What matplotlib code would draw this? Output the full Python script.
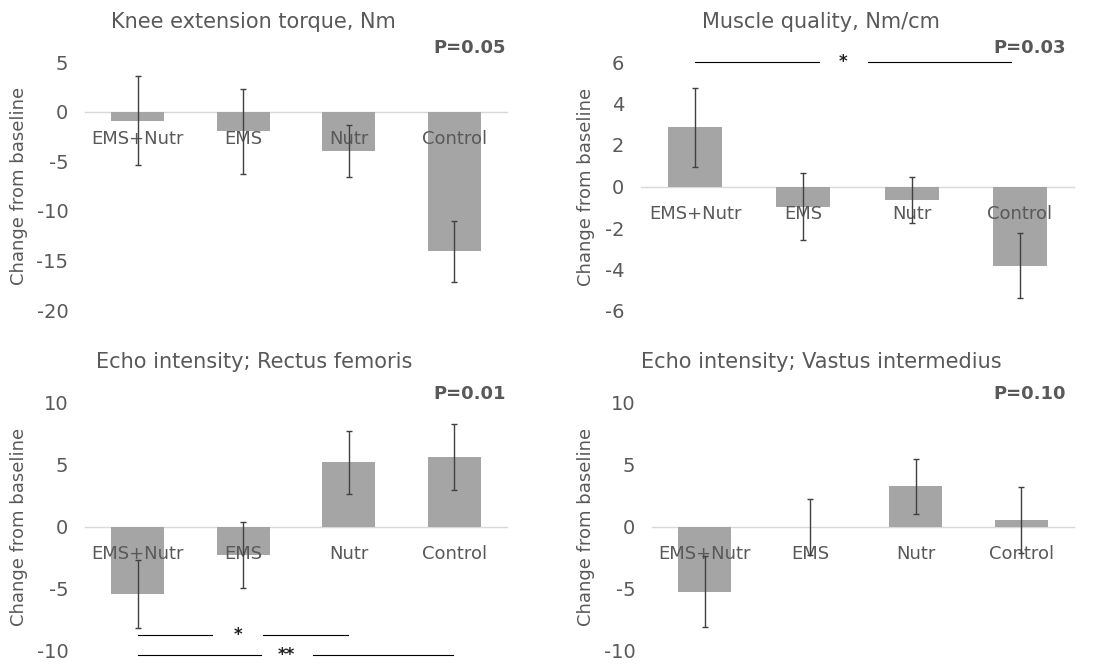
import matplotlib.pyplot as plt

groups = ["EMS+Nutr", "EMS", "Nutr", "Control"]

torque_mean = [-0.9, -2.0, -4.0, -14.1]
torque_err = [4.45, 4.3, 2.6, 3.1]

quality_mean = [2.85, -0.97, -0.65, -3.82]
quality_err = [1.9, 1.6, 1.12, 1.56]

rf_mean = [-5.43, -2.3, 5.15, 5.6]
rf_err = [2.7, 2.67, 2.5, 2.65]

vi_mean = [-5.25, -0.05, 3.22, 0.55]
vi_err = [2.85, 2.27, 2.18, 2.65]

titles = ["Knee extension torque, Nm", "Muscle quality, Nm/cm",
          "Echo intensity; Rectus femoris", "Echo intensity; Vastus intermedius"]
p_values = ["P=0.05", "P=0.03", "P=0.01", "P=0.10"]
ylims = [(-20, 5), (-6, 6), (-10, 10), (-10, 10)]
yticks = [range(-20, 6, 5), range(-6, 7, 2), range(-10, 11, 5), range(-10, 11, 5)]

W, H = 1102, 665
TXT = "#595959"

# pixel boxes (left, top, right, bottom) of each plot area
boxes = [(85, 62, 507, 310), (641, 62, 1074, 311),
         (85, 402, 507, 651), (652, 402, 1074, 651)]
ylabel_x = [28, 595, 28, 595]   # right edge of the rotated y label
title_xy = [(253, 22), (821, 22), (254, 362), (821, 362)]
p_xy = [(506, 48), (1066, 48), (506, 394), (1066, 394)]

plt.rcParams['font.family'] = ['DejaVu Sans']
plt.rcParams['axes.unicode_minus'] = False
fig = plt.figure(figsize=(W / 100, H / 100), dpi=100)

data = [(torque_mean, torque_err), (quality_mean, quality_err),
        (rf_mean, rf_err), (vi_mean, vi_err)]

axes = []
for i, (m, e) in enumerate(data):
    l, t, r, b = boxes[i]
    ax = fig.add_axes([l / W, 1 - b / H, (r - l) / W, (b - t) / H])
    x = range(len(groups))
    ax.bar(x, m, width=0.5, color="#a5a5a5", zorder=2)
    ax.errorbar(x, m, yerr=e, fmt="none", ecolor="#404040", elinewidth=1.0,
                capsize=2.5, capthick=1.0, zorder=3)
    ax.set_xlim(-0.5, 3.5)
    ax.set_ylim(*ylims[i])
    ax.set_yticks(list(yticks[i]))
    ax.set_xticks(list(x))
    ax.set_xticklabels(groups)
    for s in ["top", "right", "left"]:
        ax.spines[s].set_visible(False)
    ax.spines["bottom"].set_position(("data", 0))
    ax.spines["bottom"].set_color("#d9d9d9")
    ax.spines["bottom"].set_linewidth(1.0)
    ax.spines["bottom"].set_zorder(1)
    ax.xaxis.set_zorder(2.5)
    ax.tick_params(axis="both", length=0, colors=TXT)
    ax.tick_params(axis="x", pad=13, labelsize=13)
    ax.tick_params(axis="y", pad=12, labelsize=14)
    ax.set_ylabel("Change from baseline", fontsize=13, color=TXT)
    ax.yaxis.set_label_coords((ylabel_x[i] - l) / (r - l), 0.5)
    fig.text(title_xy[i][0] / W, 1 - title_xy[i][1] / H, titles[i],
             ha="center", va="center", fontsize=15, color=TXT)
    fig.text(p_xy[i][0] / W, 1 - p_xy[i][1] / H, p_values[i],
             ha="right", va="center", fontsize=13, fontweight="bold", color=TXT)
    axes.append(ax)

# significance brackets: (axis, y, segments, star x, label)
sig = [
    (1, 6.0, [(0, 1.14), (1.6, 2.92)], 1.37, "*"),
    (2, -8.7, [(0, 0.70), (1.19, 1.99)], 0.95, "*"),
    (2, -10.3, [(0, 1.17), (1.66, 2.99)], 1.41, "**"),
]
for k, y, segs, sx, lab in sig:
    ax = axes[k]
    for x0, x1 in segs:
        ax.plot([x0, x1], [y, y], color="black", lw=0.8, clip_on=False, zorder=5)
    ax.text(sx, y, lab, ha="center", va="center", fontsize=12, fontweight="bold",
            color="#222222", clip_on=False)

fig.savefig("out.png", dpi=100)
